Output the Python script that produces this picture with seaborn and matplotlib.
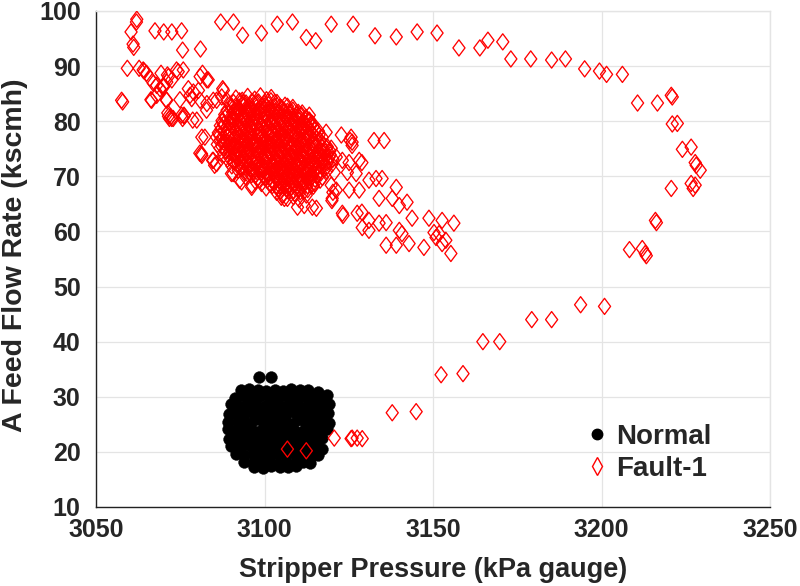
import matplotlib
matplotlib.use("Agg")
import matplotlib.pyplot as plt
from matplotlib.path import Path
from matplotlib.lines import Line2D
import seaborn as sns
import pandas as pd

# ---------------- data ----------------
# Normal operation (black dots)
normal_x = [3098.5, 3102.0,
            3093.0, 3095.5, 3098.0, 3100.5, 3103.0, 3105.5, 3108.0, 3110.5, 3113.0, 3115.8,
            3091.2, 3093.8, 3096.3, 3098.8, 3101.3, 3103.8, 3106.3, 3108.8, 3111.3, 3113.8, 3116.3, 3118.5,
            3090.0, 3092.5, 3095.0, 3097.5, 3100.0, 3102.5, 3105.0, 3107.5, 3110.0, 3112.5, 3115.0, 3117.5, 3119.2,
            3089.5, 3091.3, 3093.8, 3096.3, 3098.8, 3101.3, 3103.8, 3106.3, 3108.8, 3111.3, 3113.8, 3116.3, 3118.8,
            3089.3, 3092.0, 3094.5, 3097.0, 3099.5, 3102.0, 3104.5, 3107.0, 3109.5, 3112.0, 3114.5, 3117.0, 3119.0,
            3089.3, 3091.3, 3093.8, 3096.3, 3098.8, 3101.3, 3103.8, 3106.3, 3108.8, 3111.3, 3113.8, 3116.3, 3118.5,
            3089.4, 3092.0, 3094.5, 3097.0, 3099.5, 3102.0, 3104.5, 3107.0, 3109.5, 3112.0, 3114.5, 3117.0,
            3090.2, 3092.8, 3095.3, 3097.8, 3100.3, 3102.8, 3105.3, 3107.8, 3110.3, 3112.8, 3115.3, 3117.2,
            3091.6, 3094.0, 3096.5, 3099.0, 3101.5, 3104.0, 3106.5, 3109.0, 3111.5, 3114.0, 3116.0,
            3094.0, 3096.5, 3099.0, 3101.5, 3104.0, 3106.5, 3109.0, 3111.5, 3113.4,
            3097.0, 3099.5, 3102.0, 3104.5, 3107.0, 3109.3]
normal_y = [33.6, 33.6,
            31.3, 31.4, 31.2, 31.0, 31.3, 31.1, 31.4, 31.2, 31.3, 30.9,
            29.8, 30.1, 29.9, 30.2, 30.0, 29.8, 30.1, 29.9, 30.2, 30.0, 29.8, 30.3,
            28.6, 28.4, 28.7, 28.5, 28.3, 28.6, 28.4, 28.7, 28.5, 28.3, 28.6, 28.4, 28.7,
            26.8, 27.1, 26.9, 27.2, 27.0, 26.8, 27.1, 26.9, 27.2, 27.0, 26.8, 27.1, 27.0,
            25.4, 25.6, 25.3, 25.7, 25.5, 25.4, 25.6, 25.3, 25.7, 25.5, 25.4, 25.6, 25.3,
            24.1, 23.9, 24.2, 24.0, 23.8, 24.1, 23.9, 24.2, 24.0, 23.8, 24.1, 23.9, 24.2,
            22.4, 22.6, 22.3, 22.7, 22.5, 22.4, 22.6, 22.3, 22.7, 22.5, 22.4, 22.6,
            21.1, 20.9, 21.2, 21.0, 20.8, 21.1, 20.9, 21.2, 21.0, 20.8, 21.1, 20.6,
            19.6, 19.4, 19.7, 19.5, 19.3, 19.6, 19.4, 19.7, 19.5, 19.3, 19.4,
            18.1, 17.9, 18.2, 18.0, 17.8, 18.1, 17.9, 18.2, 18.0,
            17.3, 17.1, 17.4, 17.2, 17.3, 17.5]

# Fault-1: sparse trajectory (open red diamonds)
fault_sparse_x = [3062.1, 3062.0, 3060.4, 3061.0, 3061.2, 3067.5, 3070.1, 3072.5, 3075.4, 3075.7,
                  3081.0, 3087.0, 3090.8, 3093.5, 3099.1, 3103.8, 3108.3, 3112.4, 3115.2, 3119.8,
                  3126.3, 3132.8, 3139.1, 3145.3, 3151.2, 3157.7, 3163.9, 3166.3, 3170.7, 3173.1,
                  3179.0, 3185.2, 3189.3, 3195.0, 3199.4, 3201.5, 3206.2, 3210.7, 3216.6, 3220.7,
                  3221.0, 3221.0, 3222.5, 3224.0, 3226.6, 3227.8, 3228.1, 3229.3, 3226.6, 3227.8,
                  3227.2, 3220.7, 3216.0, 3216.3, 3208.3, 3212.1, 3213.0, 3213.3, 3193.8, 3200.9,
                  3179.3, 3185.2, 3164.8, 3169.8, 3152.4, 3158.9, 3137.9, 3145.0, 3129.0, 3127.5,
                  3126.0, 3125.7, 3120.7, 3112.4, 3106.8]
fault_sparse_y = [98.5, 98.0, 96.2, 94.0, 93.4, 96.4, 96.2, 96.2, 96.4, 92.9,
                  93.1, 98.0, 98.0, 95.6, 96.0, 97.6, 98.0, 95.2, 94.6, 97.6,
                  97.6, 95.5, 95.3, 96.2, 96.0, 93.3, 93.3, 94.7, 94.4, 91.3,
                  91.3, 91.1, 91.3, 89.5, 89.1, 88.5, 88.5, 83.3, 83.3, 84.7,
                  84.4, 79.5, 79.6, 74.9, 75.3, 72.5, 72.0, 71.1, 68.7, 68.4,
                  67.8, 67.8, 62.0, 61.6, 56.7, 56.9, 56.0, 55.6, 46.7, 46.4,
                  44.0, 44.0, 40.0, 40.0, 34.0, 34.2, 27.1, 27.3, 22.4, 22.5,
                  22.5, 22.4, 22.5, 20.2, 20.5]

# Fault-1: scattered points upper-left of the main cluster
fault_left_x = [3059.3, 3062.8, 3064.3, 3065.0, 3069.3, 3071.2, 3072.5, 3074.4, 3075.9, 3068.0,
                3069.0, 3070.0, 3071.0, 3057.6, 3057.9, 3066.3, 3070.8, 3074.9, 3071.5, 3071.8,
                3076.2, 3077.9, 3078.9, 3080.9, 3081.6, 3082.9, 3087.6, 3077.4, 3078.4, 3080.4,
                3083.3, 3080.9, 3082.9, 3084.8, 3087.8, 3087.3, 3079.9, 3082.3, 3081.3, 3084.8,
                3085.8, 3090.7, 3093.2, 3096.2, 3064.0, 3066.0, 3067.0, 3070.0, 3071.5, 3073.9,
                3066.5, 3072.2, 3072.9, 3076.1, 3068.0, 3071.0, 3071.3, 3072.5, 3075.4, 3075.7,
                3078.7, 3082.8, 3085.8, 3088.8, 3081.4, 3080.8, 3081.4, 3084.6, 3085.2, 3090.2,
                3092.6, 3096.2]
fault_left_y = [89.6, 89.6, 89.1, 88.7, 88.7, 88.4, 87.5, 89.0, 89.3, 86.5,
                85.9, 86.2, 87.1, 83.8, 83.5, 83.9, 83.9, 83.9, 80.9, 80.5,
                80.9, 84.7, 85.3, 88.1, 88.7, 87.5, 85.9, 85.9, 84.1, 85.6,
                87.5, 83.8, 83.2, 83.8, 85.6, 84.4, 80.2, 77.1, 74.1, 72.9,
                72.3, 70.5, 69.0, 68.4, 89.3, 87.8, 86.9, 86.5, 88.1, 89.3,
                83.8, 80.8, 80.5, 81.1, 84.7, 83.8, 81.5, 80.5, 81.1, 80.5,
                80.2, 82.0, 83.8, 83.8, 77.1, 74.2, 73.8, 72.9, 72.0, 70.5,
                69.3, 68.0]

# Fault-1: scattered points lower-right of the main cluster
fault_right_x = [3113.3, 3113.3, 3114.2, 3118.3, 3122.8, 3125.7, 3126.0, 3132.5, 3135.5, 3119.8,
                 3121.3, 3123.1, 3125.1, 3128.1, 3120.7, 3124.6, 3127.2, 3119.8, 3121.3, 3125.1,
                 3128.1, 3131.0, 3133.1, 3134.9, 3139.1, 3134.0, 3137.9, 3140.0, 3142.3, 3123.1,
                 3127.5, 3131.0, 3134.0, 3136.1, 3129.0, 3131.0, 3140.0, 3140.8, 3143.8, 3148.8,
                 3152.7, 3156.2, 3136.1, 3139.1, 3142.9, 3147.3, 3150.9, 3152.7, 3155.3, 3150.3,
                 3151.8, 3153.8, 3105.0, 3105.9, 3109.8, 3111.8, 3114.2, 3115.4, 3120.1, 3125.4,
                 3126.0, 3128.9, 3120.3, 3120.0, 3123.3, 3128.9]
fault_right_y = [81.1, 80.2, 79.6, 78.0, 77.5, 77.1, 76.2, 76.5, 76.5, 75.1,
                 73.5, 72.9, 72.5, 72.9, 70.7, 70.7, 70.5, 68.4, 67.5, 67.5,
                 67.5, 69.3, 69.6, 69.6, 68.0, 66.0, 66.0, 64.7, 65.3, 63.3,
                 63.3, 62.0, 61.5, 61.6, 60.7, 60.2, 60.2, 59.6, 62.4, 62.4,
                 62.0, 61.5, 57.5, 57.5, 57.8, 57.1, 58.9, 57.8, 56.0, 59.8,
                 59.6, 58.4, 66.2, 66.0, 64.4, 64.7, 64.4, 64.2, 66.0, 76.5,
                 75.6, 72.5, 67.1, 65.6, 62.9, 63.5]

# Fault-1: dense core of the cluster (first layer)
fault_core_x = [3091.5, 3093.4, 3095.0, 3097.1, 3098.8, 3100.6, 3102.0,
                3089.8, 3091.9, 3093.6, 3095.7, 3097.5, 3099.3, 3101.2, 3103.0, 3104.6, 3106.1,
                3088.9, 3090.6, 3092.5, 3094.3, 3096.0, 3097.9, 3099.6, 3101.5, 3103.3, 3105.1, 3106.8, 3108.4, 3110.0,
                3088.2, 3090.1, 3091.7, 3093.5, 3095.3, 3097.0, 3098.8, 3100.4, 3102.3, 3104.0, 3105.8, 3107.5, 3109.3, 3111.0, 3112.3,
                3087.4, 3089.3, 3091.0, 3092.8, 3094.6, 3096.3, 3098.1, 3099.8, 3101.6, 3103.4, 3105.1, 3106.9, 3108.6, 3110.4, 3112.1, 3113.4,
                3086.9, 3088.7, 3090.4, 3092.2, 3094.0, 3095.7, 3097.5, 3099.2, 3101.0, 3102.7, 3104.5, 3106.2, 3108.0, 3109.7, 3111.5, 3113.2, 3114.5,
                3086.3, 3088.1, 3089.8, 3091.6, 3093.3, 3095.1, 3096.9, 3098.6, 3100.4, 3102.1, 3103.9, 3105.6, 3107.4, 3109.1, 3110.9, 3112.6, 3114.4, 3116.0,
                3085.8, 3087.5, 3089.3, 3091.0, 3092.8, 3094.5, 3096.3, 3098.0, 3099.8, 3101.5, 3103.3, 3105.0, 3106.8, 3108.5, 3110.3, 3112.0, 3113.8, 3115.5, 3117.1,
                3086.0, 3087.8, 3089.6, 3091.3, 3093.1, 3094.8, 3096.6, 3098.3, 3100.1, 3101.8, 3103.6, 3105.3, 3107.1, 3108.8, 3110.6, 3112.3, 3114.1, 3115.8, 3117.6,
                3086.8, 3088.6, 3090.3, 3092.1, 3093.8, 3095.6, 3097.3, 3099.1, 3100.8, 3102.6, 3104.3, 3106.1, 3107.8, 3109.6, 3111.3, 3113.1, 3114.8, 3116.6, 3118.4,
                3087.9, 3089.7, 3091.4, 3093.2, 3094.9, 3096.7, 3098.4, 3100.2, 3101.9, 3103.7, 3105.4, 3107.2, 3108.9, 3110.7, 3112.4, 3114.2, 3115.9, 3117.7, 3119.5,
                3089.0, 3090.8, 3092.5, 3094.3, 3096.0, 3097.8, 3099.5, 3101.3, 3103.0, 3104.8, 3106.5, 3108.3, 3110.0, 3111.8, 3113.5, 3115.3, 3117.0, 3118.8, 3120.3,
                3090.3, 3092.1, 3093.8, 3095.6, 3097.3, 3099.1, 3100.8, 3102.6, 3104.3, 3106.1, 3107.8, 3109.6, 3111.3, 3113.1, 3114.8, 3116.6, 3118.3, 3120.0,
                3092.2, 3094.0, 3095.7, 3097.5, 3099.2, 3101.0, 3102.7, 3104.5, 3106.2, 3108.0, 3109.7, 3111.5, 3113.2, 3115.0, 3116.7, 3118.5,
                3094.4, 3096.2, 3097.9, 3099.7, 3101.4, 3103.2, 3104.9, 3106.7, 3108.4, 3110.2, 3111.9, 3113.7, 3115.4, 3117.2,
                3097.3, 3099.1, 3100.8, 3102.6, 3104.3, 3106.1, 3107.8, 3109.6, 3111.3, 3113.1, 3114.8, 3116.5,
                3100.5, 3102.3, 3104.0, 3105.8, 3107.5, 3109.3, 3111.0, 3112.8, 3114.5,
                3103.6, 3105.4, 3107.1, 3108.9, 3110.6, 3112.4,
                3106.8, 3108.6, 3110.3]
fault_core_y = [84.2, 83.8, 84.5, 84.0, 84.6, 83.9, 84.3,
                83.1, 82.7, 83.3, 82.9, 83.2, 82.8, 83.0, 83.4, 82.6, 82.9,
                82.0, 81.6, 82.3, 81.8, 82.1, 81.5, 82.2, 81.9, 81.7, 82.4, 81.8, 82.0, 81.6,
                81.2, 80.8, 81.4, 80.9, 81.1, 80.7, 81.3, 81.0, 80.6, 81.2, 80.9, 81.4, 80.8, 81.1, 80.7,
                80.1, 79.7, 80.3, 79.9, 80.2, 79.6, 80.0, 80.4, 79.8, 80.1, 79.7, 80.3, 79.9, 80.2, 79.6, 80.0,
                79.2, 78.8, 79.0, 79.4, 78.7, 79.1, 78.9, 79.3, 78.6, 79.0, 79.2, 78.8, 79.4, 78.9, 79.1, 78.7, 79.0,
                77.9, 78.3, 77.7, 78.1, 78.4, 77.8, 78.0, 77.6, 78.2, 77.9, 78.3, 77.7, 78.1, 77.8, 78.4, 78.0, 77.6, 78.2,
                77.1, 76.7, 77.3, 76.9, 77.2, 76.6, 77.0, 77.4, 76.8, 77.1, 76.7, 77.3, 76.9, 77.2, 76.6, 77.0, 77.4, 76.8, 77.1,
                75.8, 76.2, 76.0, 75.7, 76.3, 75.9, 76.1, 75.6, 76.2, 75.8, 76.4, 75.9, 76.1, 75.7, 76.3, 75.8, 76.0, 76.2, 75.7,
                75.1, 74.7, 75.3, 74.9, 75.2, 74.6, 75.0, 75.4, 74.8, 75.1, 74.7, 75.3, 74.9, 75.2, 74.6, 75.0, 75.4, 74.8, 75.1,
                73.9, 74.3, 73.7, 74.1, 74.4, 73.8, 74.0, 73.6, 74.2, 73.9, 74.3, 73.7, 74.1, 73.8, 74.4, 74.0, 73.6, 74.2, 73.9,
                73.1, 72.7, 73.3, 72.9, 73.2, 72.6, 73.0, 73.4, 72.8, 73.1, 72.7, 73.3, 72.9, 73.2, 72.6, 73.0, 73.4, 72.8, 73.1,
                71.9, 72.3, 71.7, 72.1, 72.4, 71.8, 72.0, 71.6, 72.2, 71.9, 72.3, 71.7, 72.1, 71.8, 72.4, 72.0, 71.6, 72.2,
                71.1, 70.7, 71.3, 70.9, 71.2, 70.6, 71.0, 71.4, 70.8, 71.1, 70.7, 71.3, 70.9, 71.2, 70.6, 71.0,
                69.9, 70.3, 69.7, 70.1, 70.4, 69.8, 70.0, 69.6, 70.2, 69.9, 70.3, 69.7, 70.1, 69.8,
                69.1, 68.7, 69.3, 68.9, 69.2, 68.6, 69.0, 69.4, 68.8, 69.1, 68.7, 69.3,
                67.9, 68.3, 67.7, 68.1, 68.4, 67.8, 68.0, 67.6, 68.2,
                67.1, 66.7, 67.3, 66.9, 67.2, 66.6,
                66.0, 66.3, 65.8]

# Fault-1: dense core of the cluster (second, interleaved layer)
fault_core2_x = [3090.8, 3092.6, 3094.5, 3096.3, 3098.2, 3100.0, 3101.9, 3103.7,
                 3090.2, 3092.0, 3093.9, 3095.7, 3097.6, 3099.4, 3101.3, 3103.1, 3105.0, 3106.8, 3108.4,
                 3089.2, 3091.0, 3092.9, 3094.7, 3096.6, 3098.4, 3100.3, 3102.1, 3104.0, 3105.8, 3107.7, 3109.5, 3111.2,
                 3088.3, 3090.1, 3092.0, 3093.8, 3095.7, 3097.5, 3099.4, 3101.2, 3103.1, 3104.9, 3106.8, 3108.6, 3110.5, 3112.5,
                 3087.8, 3089.6, 3091.5, 3093.3, 3095.2, 3097.0, 3098.9, 3100.7, 3102.6, 3104.4, 3106.3, 3108.1, 3110.0, 3111.8, 3113.6,
                 3087.2, 3089.0, 3090.9, 3092.7, 3094.6, 3096.4, 3098.3, 3100.1, 3102.0, 3103.8, 3105.7, 3107.5, 3109.4, 3111.2, 3113.1, 3114.9,
                 3086.7, 3088.5, 3090.4, 3092.2, 3094.1, 3095.9, 3097.8, 3099.6, 3101.5, 3103.3, 3105.2, 3107.0, 3108.9, 3110.7, 3112.6, 3114.4, 3116.2,
                 3086.9, 3088.7, 3090.6, 3092.4, 3094.3, 3096.1, 3098.0, 3099.8, 3101.7, 3103.5, 3105.4, 3107.2, 3109.1, 3110.9, 3112.8, 3114.6, 3116.5,
                 3087.4, 3089.2, 3091.1, 3092.9, 3094.8, 3096.6, 3098.5, 3100.3, 3102.2, 3104.0, 3105.9, 3107.7, 3109.6, 3111.4, 3113.3, 3115.1, 3117.0, 3118.6,
                 3088.4, 3090.2, 3092.1, 3093.9, 3095.8, 3097.6, 3099.5, 3101.3, 3103.2, 3105.0, 3106.9, 3108.7, 3110.6, 3112.4, 3114.3, 3116.1, 3118.0, 3119.4,
                 3089.6, 3091.4, 3093.3, 3095.1, 3097.0, 3098.8, 3100.7, 3102.5, 3104.4, 3106.2, 3108.1, 3109.9, 3111.8, 3113.6, 3115.5, 3117.3, 3119.2,
                 3091.0, 3092.8, 3094.7, 3096.5, 3098.4, 3100.2, 3102.1, 3103.9, 3105.8, 3107.6, 3109.5, 3111.3, 3113.2, 3115.0, 3116.9, 3118.7,
                 3093.1, 3094.9, 3096.8, 3098.6, 3100.5, 3102.3, 3104.2, 3106.0, 3107.9, 3109.7, 3111.6, 3113.4, 3115.3, 3117.1,
                 3095.5, 3097.3, 3099.2, 3101.0, 3102.9, 3104.7, 3106.6, 3108.4, 3110.3, 3112.1, 3114.0, 3115.8,
                 3098.4, 3100.2, 3102.1, 3103.9, 3105.8, 3107.6, 3109.5, 3111.3, 3113.2, 3115.0,
                 3101.6, 3103.4, 3105.3, 3107.1, 3109.0, 3110.8, 3112.7, 3114.2,
                 3104.7, 3106.5, 3108.4, 3110.2, 3112.0]
fault_core2_y = [83.4, 83.7, 83.3, 83.6, 83.5, 83.2, 83.7, 83.4,
                 82.6, 82.3, 82.7, 82.4, 82.5, 82.8, 82.3, 82.6, 82.4, 82.7, 82.5,
                 81.4, 81.7, 81.3, 81.6, 81.5, 81.8, 81.4, 81.3, 81.7, 81.5, 81.6, 81.3, 81.5,
                 80.6, 80.3, 80.7, 80.4, 80.5, 80.8, 80.3, 80.6, 80.4, 80.7, 80.5, 80.3, 80.6, 80.4,
                 79.4, 79.7, 79.3, 79.6, 79.5, 79.8, 79.4, 79.3, 79.7, 79.5, 79.6, 79.3, 79.5, 79.7, 79.4,
                 78.6, 78.3, 78.7, 78.4, 78.5, 78.8, 78.3, 78.6, 78.4, 78.7, 78.5, 78.3, 78.6, 78.4, 78.7, 78.5,
                 77.4, 77.7, 77.3, 77.6, 77.5, 77.8, 77.4, 77.3, 77.7, 77.5, 77.6, 77.3, 77.5, 77.7, 77.4, 77.6, 77.5,
                 76.6, 76.3, 76.7, 76.4, 76.5, 76.8, 76.3, 76.6, 76.4, 76.7, 76.5, 76.3, 76.6, 76.4, 76.7, 76.5, 76.4,
                 75.4, 75.7, 75.3, 75.6, 75.5, 75.8, 75.4, 75.3, 75.7, 75.5, 75.6, 75.3, 75.5, 75.7, 75.4, 75.6, 75.5, 75.4,
                 74.6, 74.3, 74.7, 74.4, 74.5, 74.8, 74.3, 74.6, 74.4, 74.7, 74.5, 74.3, 74.6, 74.4, 74.7, 74.5, 74.4, 74.6,
                 73.4, 73.7, 73.3, 73.6, 73.5, 73.8, 73.4, 73.3, 73.7, 73.5, 73.6, 73.3, 73.5, 73.7, 73.4, 73.6, 73.5,
                 72.6, 72.3, 72.7, 72.4, 72.5, 72.8, 72.3, 72.6, 72.4, 72.7, 72.5, 72.3, 72.6, 72.4, 72.7, 72.5,
                 71.4, 71.7, 71.3, 71.6, 71.5, 71.8, 71.4, 71.3, 71.7, 71.5, 71.6, 71.3, 71.5, 71.7,
                 70.6, 70.3, 70.7, 70.4, 70.5, 70.8, 70.3, 70.6, 70.4, 70.7, 70.5, 70.3,
                 69.4, 69.7, 69.3, 69.6, 69.5, 69.8, 69.4, 69.3, 69.7, 69.5,
                 68.6, 68.3, 68.7, 68.4, 68.5, 68.8, 68.3, 68.6,
                 67.4, 67.7, 67.3, 67.6, 67.5]

# Fault-1: densest centre of the cluster (third layer)
fault_core3_x = [3092.0, 3095.5, 3099.0, 3102.5, 3106.0,
                 3090.5, 3094.0, 3097.5, 3101.0, 3104.5, 3108.0,
                 3089.5, 3093.0, 3096.5, 3100.0, 3103.5, 3107.0, 3110.5,
                 3089.0, 3092.5, 3096.0, 3099.5, 3103.0, 3106.5, 3110.0, 3113.5,
                 3090.0, 3093.5, 3097.0, 3100.5, 3104.0, 3107.5, 3111.0, 3114.5,
                 3091.0, 3094.5, 3098.0, 3101.5, 3105.0, 3108.5, 3112.0, 3115.5,
                 3093.0, 3096.5, 3100.0, 3103.5, 3107.0, 3110.5, 3114.0, 3117.5,
                 3096.0, 3099.5, 3103.0, 3106.5, 3110.0, 3113.5, 3116.5,
                 3100.0, 3103.5, 3107.0, 3110.5, 3114.0,
                 3104.5, 3108.0, 3111.5]
fault_core3_y = [81.8, 81.6, 81.9, 81.7, 81.8,
                 80.2, 80.4, 80.1, 80.3, 80.2, 80.4,
                 78.7, 78.9, 78.6, 78.8, 78.7, 78.9, 78.6,
                 77.3, 77.1, 77.4, 77.2, 77.3, 77.1, 77.4, 77.2,
                 75.8, 75.6, 75.9, 75.7, 75.8, 75.6, 75.9, 75.7,
                 74.2, 74.4, 74.1, 74.3, 74.2, 74.4, 74.1, 74.3,
                 72.8, 72.6, 72.9, 72.7, 72.8, 72.6, 72.9, 72.7,
                 71.2, 71.4, 71.1, 71.3, 71.2, 71.4, 71.1,
                 69.8, 69.6, 69.9, 69.7, 69.8,
                 68.3, 68.1, 68.4]

x_ticks = [3050, 3100, 3150, 3200, 3250]
y_ticks = [10, 20, 30, 40, 50, 60, 70, 80, 90, 100]
x_label = "Stripper Pressure (kPa gauge)"
y_label = "A Feed Flow Rate (kscmh)"
series_names = ["Normal", "Fault-1"]

# ---------------- plot ----------------
sns.set_theme(style="white")
plt.rcParams["font.family"] = ["Liberation Sans", "DejaVu Sans"]
plt.rcParams["font.weight"] = "bold"

normal_df = pd.DataFrame({"x": normal_x, "y": normal_y})
fault_df = pd.DataFrame({
    "x": fault_core_x + fault_core2_x + fault_core3_x + fault_left_x + fault_right_x + fault_sparse_x,
    "y": fault_core_y + fault_core2_y + fault_core3_y + fault_left_y + fault_right_y + fault_sparse_y,
})

diamond = Path([(0, 1), (0.75, 0), (0, -1), (-0.75, 0), (0, 1)],
               [Path.MOVETO, Path.LINETO, Path.LINETO, Path.LINETO, Path.CLOSEPOLY])

fig = plt.figure(figsize=(8, 5.86), dpi=100)
ax = fig.add_axes([96 / 800, 1 - 507 / 586, 674 / 800, 496 / 586])

ax.grid(True, color="#e4e4e4", linewidth=0.9, zorder=0)
ax.set_axisbelow(True)

sns.scatterplot(data=normal_df, x="x", y="y", ax=ax, marker="o", s=72,
                color="black", edgecolor="black", linewidth=0.3, zorder=2, legend=False)
sns.scatterplot(data=fault_df, x="x", y="y", ax=ax, marker=diamond, s=135,
                color="red", facecolor="none", edgecolor="red", linewidth=0.95,
                zorder=3, legend=False)

ax.set_xlim(3050, 3250)
ax.set_ylim(10, 100)
ax.set_xticks(x_ticks)
ax.set_yticks(y_ticks)
ax.set_xticklabels([str(v) for v in x_ticks], fontsize=18, fontweight="bold")
ax.set_yticklabels([str(v) for v in y_ticks], fontsize=18, fontweight="bold")
ax.tick_params(axis="both", direction="in", length=5, width=0.9, color="#222222",
               top=False, right=False)
ax.tick_params(axis="x", pad=8)
ax.tick_params(axis="y", pad=11)

for side in ["left", "bottom"]:
    ax.spines[side].set_color("#222222")
    ax.spines[side].set_linewidth(1.0)
for side in ["top", "right"]:
    ax.spines[side].set_color("#e4e4e4")
    ax.spines[side].set_linewidth(1.0)

ax.set_xlabel(x_label, fontsize=19.5, fontweight="bold")
ax.xaxis.set_label_coords(0.5, (507 - 570) / 496)
ax.xaxis.label.set_verticalalignment("center")
ax.set_ylabel(y_label, fontsize=20.5, fontweight="bold")
ax.yaxis.set_label_coords((15 - 96) / 674, (507 - 255) / 496)
ax.yaxis.label.set_verticalalignment("center")

handles = [
    Line2D([], [], linestyle="none", marker="o", markersize=7.5, color="black"),
    Line2D([], [], linestyle="none", marker="d", markersize=9, markerfacecolor="none",
           markeredgecolor="red", markeredgewidth=1.0),
]
leg = ax.legend(handles, series_names, loc="upper left", bbox_to_anchor=(0.727, 0.168),
                frameon=False, fontsize=20, handlelength=0.8, handletextpad=0.3,
                labelspacing=0.22, borderpad=0, borderaxespad=0)
for t in leg.get_texts():
    t.set_fontweight("bold")

fig.savefig("out.png", dpi=100)
